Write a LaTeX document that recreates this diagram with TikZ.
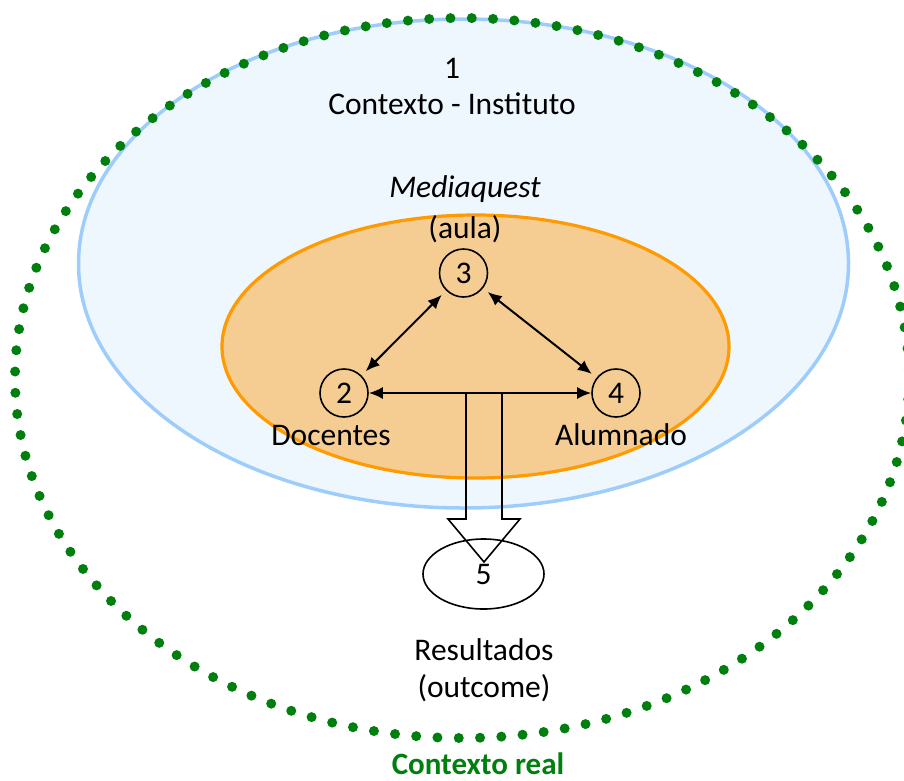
\documentclass[tikz,border=0pt]{standalone}
\usepackage{fontspec}
\setmainfont{Carlito}
\usetikzlibrary{arrows.meta,shapes.geometric}
\definecolor{ctxfill}{HTML}{EEF6FE}
\definecolor{ctxline}{HTML}{9FCDFB}
\definecolor{aulafill}{HTML}{F5CD92}
\definecolor{aulaline}{HTML}{FF9A00}
\definecolor{realgreen}{HTML}{007F0E}
\begin{document}
\begin{tikzpicture}[x=1pt,y=-1pt,
  every node/.style={font=\fontsize{31.5}{38}\selectfont, inner sep=0pt},
  actor/.style={circle, draw, line width=1.6pt, minimum size=48pt},
  link/.style={line width=2pt, {Latex[length=14pt,width=12pt]}-{Latex[length=14pt,width=12pt]}},
  outline/.style={draw, line width=1.6pt},
  lbl/.style={align=center}]
\useasboundingbox (0,0) rectangle (904,780);

% institute context
\draw[fill=ctxfill, draw=ctxline, line width=3.5pt] (463.5,263.5) ellipse [x radius=385, y radius=244.5];
% classroom
\draw[fill=aulafill, draw=aulaline, line width=3.2pt] (475.5,346.5) ellipse [x radius=253.5, y radius=131.5];

% labels
\node[lbl] (n1) at (452,68) {1};
\node[lbl] (ctx) at (452,104) {Contexto - Instituto};
\node[lbl] (mq) at (465,189) {\itshape Mediaquest};
\node[lbl] (aula) at (465,229) {(aula)};

% actors
\node[actor] (c3) at (463.5,273) {3};
\node[actor] (c2) at (344,393) {2};
\node[actor] (c4) at (616,393) {4};
\node[lbl] (doc) at (331,435) {Docentes};
\node[lbl] (alu) at (621,435) {Alumnado};

% outcome
\node[outline, ellipse, minimum width=121pt, minimum height=70pt] (c5) at (483.5,574) {5};
\node[lbl] (res) at (484,650) {Resultados};
\node[lbl] (out) at (484,688) {(outcome)};

% relations
\draw[link, shorten <=6pt, shorten >=6pt] (c3) -- (c2);
\draw[link, shorten <=6pt, shorten >=6pt] (c3) -- (c4);
\draw[link] (c2) -- (c4);

% hollow block arrow into the outcome
\coordinate (sl) at (466,393);
\coordinate (sr) at (502,393);
\coordinate (tip) at (484,562);
\draw[line width=1.6pt, line join=miter] (sl) -- (466,519) -- (448,519) -- (tip) -- (520,519) -- (502,519) -- (sr);

% real context
\begin{scope}
\clip (0,0) rectangle (904,780);
\draw[realgreen, line width=10pt, line cap=round, dash pattern=on 0pt off 21.3pt] (462,378) ellipse [x radius=447, y radius=360];
\end{scope}
\node[lbl, anchor=base, text=realgreen, font=\fontsize{31}{36}\selectfont\bfseries] (real) at (478,774) {Contexto real};
\end{tikzpicture}
\end{document}
